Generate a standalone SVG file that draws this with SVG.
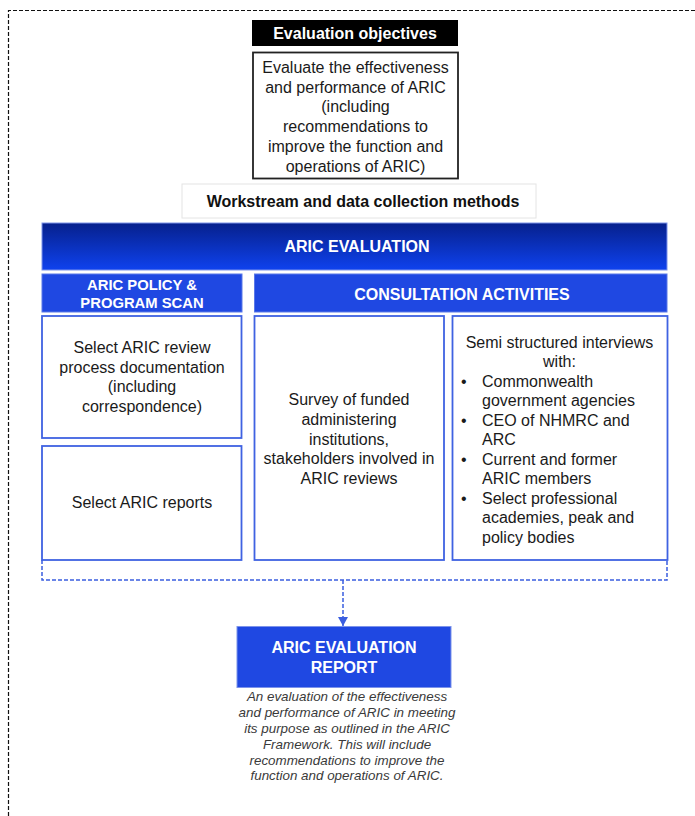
<svg xmlns="http://www.w3.org/2000/svg" width="695" height="816" viewBox="0 0 695 816">
<defs>
<linearGradient id="gEval" x1="0" y1="0" x2="0" y2="1">
<stop offset="0" stop-color="#06208c"/>
<stop offset="1" stop-color="#0f42ee"/>
</linearGradient>
<marker id="arr" markerWidth="10" markerHeight="10" refX="9" refY="5" orient="auto" markerUnits="userSpaceOnUse">
<path d="M0,0 L9,5 L0,10 Z" fill="#3a5ee0"/>
</marker>
<style>
text{font-family:"Liberation Sans",Arial,sans-serif;}
.hd{fill:#fff;font-weight:bold;font-size:16px;text-anchor:middle;}
.hd2{fill:#fff;font-weight:bold;font-size:14.8px;text-anchor:middle;}
.bx{fill:#fff;stroke:#3f62e2;stroke-width:1.8;}
.tx{fill:#1a1a1a;font-size:16px;text-anchor:middle;}
.tl{fill:#1a1a1a;font-size:16px;}
.it{fill:#3a3a3a;font-size:13.4px;font-style:italic;text-anchor:middle;}
.blue{fill:#1f48e2;stroke:#5a78e8;stroke-width:1;}
</style>
</defs>
<rect width="695" height="816" fill="#fff"/>
<path d="M8.5,816 V10.5 H695" fill="none" stroke="#111" stroke-width="1.2" stroke-dasharray="4,2"/>

<g id="objectives-title">
<rect x="252" y="20" width="206" height="26" fill="#000"/>
<text x="355" y="39" style="fill:#fff;font-weight:bold;font-size:16px;text-anchor:middle">Evaluation objectives</text>
</g>
<g id="objectives">
<rect x="253" y="52.5" width="205" height="126" fill="#fff" stroke="#222" stroke-width="1.8"/>
<text class="tx" x="355.5" y="73">Evaluate the effectiveness</text>
<text class="tx" x="355.5" y="92.7">and performance of ARIC</text>
<text class="tx" x="355.5" y="112.4">(including</text>
<text class="tx" x="355.5" y="132">recommendations to</text>
<text class="tx" x="355.5" y="151.8">improve the function and</text>
<text class="tx" x="355.5" y="171.5">operations of ARIC)</text>
</g>
<g id="workstream">
<rect x="182" y="184" width="354" height="34" fill="#fff" stroke="#e4e4e4" stroke-width="1"/>
<text x="363" y="207" style="fill:#111;font-weight:bold;font-size:16px;text-anchor:middle">Workstream and data collection methods</text>
</g>
<g id="aric-evaluation">
<rect x="42" y="223" width="625" height="47" fill="url(#gEval)" stroke="#7d93ea" stroke-width="1"/>
<text class="hd" x="357" y="252">ARIC EVALUATION</text>
</g>
<g id="policy-scan">
<rect x="42" y="274" width="200" height="38" class="blue"/>
<text class="hd2" x="142" y="290">ARIC POLICY &amp;</text>
<text class="hd2" x="142" y="308">PROGRAM SCAN</text>
</g>
<g id="consultation">
<rect x="254.5" y="274" width="412.5" height="38" class="blue"/>
<text class="hd" x="462" y="300">CONSULTATION ACTIVITIES</text>
</g>
<g id="review-docs">
<rect x="42" y="316" width="199.5" height="122" class="bx"/>
<text class="tx" x="142" y="353">Select ARIC review</text>
<text class="tx" x="142" y="372.5">process documentation</text>
<text class="tx" x="142" y="392">(including</text>
<text class="tx" x="142" y="412">correspondence)</text>
</g>
<g id="reports">
<rect x="42" y="446" width="199.5" height="114" class="bx"/>
<text class="tx" x="142" y="508">Select ARIC reports</text>
</g>
<g id="survey">
<rect x="254.5" y="316" width="189.5" height="244" class="bx"/>
<text class="tx" x="349" y="405">Survey of funded</text>
<text class="tx" x="349" y="425">administering</text>
<text class="tx" x="349" y="444.5">institutions,</text>
<text class="tx" x="349" y="464">stakeholders involved in</text>
<text class="tx" x="349" y="484">ARIC reviews</text>
</g>
<g id="interviews">
<rect x="452.5" y="316" width="215" height="244" class="bx"/>
<text class="tx" x="559.5" y="347.5">Semi structured interviews</text>
<text class="tx" x="559.5" y="367">with:</text>
<g class="tl">
<text x="461" y="386.5">•</text><text x="482" y="386.5">Commonwealth</text>
<text x="482" y="406">government agencies</text>
<text x="461" y="425.5">•</text><text x="482" y="425.5">CEO of NHMRC  and</text>
<text x="482" y="445">ARC</text>
<text x="461" y="464.5">•</text><text x="482" y="464.5">Current and former</text>
<text x="482" y="484">ARIC members</text>
<text x="461" y="503.5">•</text><text x="482" y="503.5">Select professional</text>
<text x="482" y="523">academies, peak and</text>
<text x="482" y="542.5">policy bodies</text>
</g>
</g>
<g id="connectors">
<path d="M42,560 V580 H667 V560" fill="none" stroke="#3a5ee0" stroke-width="1.5" stroke-dasharray="4,2"/>
<path d="M343,580 V626" fill="none" stroke="#3a5ee0" stroke-width="1.5" stroke-dasharray="4,2" marker-end="url(#arr)"/>
</g>
<g id="report">
<rect x="237" y="626.5" width="214" height="61" fill="#1f48e2" stroke="#7d93ea" stroke-width="1"/>
<text class="hd" x="344" y="653">ARIC EVALUATION</text>
<text class="hd" x="344" y="673">REPORT</text>
<text class="it" x="347" y="701">An evaluation of the effectiveness</text>
<text class="it" x="347" y="717">and performance of ARIC in meeting</text>
<text class="it" x="347" y="733">its purpose as outlined in the ARIC</text>
<text class="it" x="347" y="748.5">Framework. This will include</text>
<text class="it" x="347" y="764.5">recommendations to improve the</text>
<text class="it" x="347" y="780">function and operations of ARIC.</text>
</g>
</svg>
